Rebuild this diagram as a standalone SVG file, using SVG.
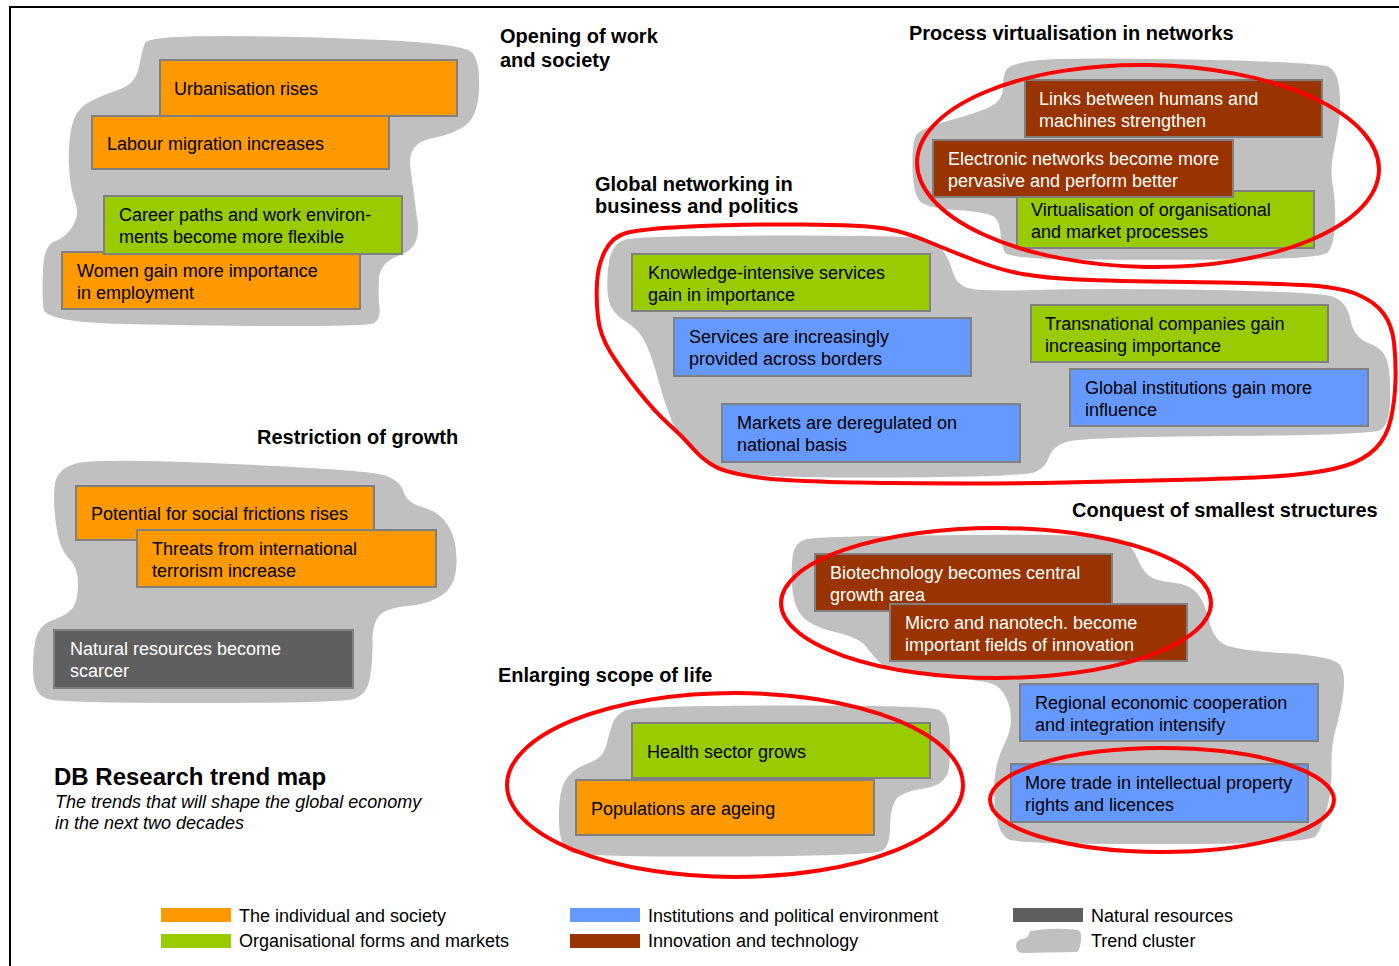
<svg xmlns="http://www.w3.org/2000/svg" width="1399" height="966" viewBox="0 0 1399 966">
<style>
text{font-family:"Liberation Sans",Arial,sans-serif;font-size:18px;fill:#000}
.h{font-weight:bold;font-size:20px}
.w{fill:#fff}
.blob{fill:#c0c0c0}
.box{stroke:#808080;stroke-width:2}
.or{fill:#ff9900}.gr{fill:#99cc00}.bl{fill:#6699ff}.br{fill:#993300}.dg{fill:#5f5f5f}
.ring{fill:none;stroke:#ff0000;stroke-width:4}
</style>
<rect x="0" y="0" width="1399" height="966" fill="#fff"/>
<path d="M9,7 H1399 M10,6 V966" stroke="#000" stroke-width="2" fill="none"/>

<g id="cluster-opening">
<path class="blob" d="M145,43 Q148,36 224,36 Q300,36 382.5,40 Q465,44 472.5,53 Q480,62 479,88.5 Q478,115 466.5,124.5 Q455,134 431,138.5 Q407,143 410.5,169 Q414,195 417.5,221.5 Q421,248 400.5,255 Q380,262 379,278.5 Q378,295 379.5,308.5 Q381,322 370.5,324 Q360,326 280,326 Q200,326 122.5,324 Q45,322 43.5,308.5 Q42,295 43,270 Q44,245 54.5,241.5 Q65,238 72.5,226.5 Q80,215 75,201.5 Q70,188 69,166.5 Q68,145 71.5,127.5 Q75,110 87.5,103 Q100,96 118,90 Q136,84 139,67 Q142,50 145,43 Z"/>
<text class="h" x="500" y="43">Opening of work</text>
<text class="h" x="500" y="67">and society</text>
</g>
<g id="n-urbanisation"><rect class="box or" x="160" y="60" width="297" height="56"/><text x="174" y="95">Urbanisation rises</text></g>
<g id="n-labour"><rect class="box or" x="92" y="116" width="297" height="53"/><text x="107" y="150">Labour migration increases</text></g>
<g id="n-women"><rect class="box or" x="62" y="252" width="298" height="57"/><text x="77" y="277">Women gain more importance</text><text x="77" y="298.5">in employment</text></g>
<g id="n-career"><rect class="box gr" x="104" y="196" width="298" height="58"/><text x="119" y="221">Career paths and work environ-</text><text x="119" y="242.5">ments become more flexible</text></g>

<g id="cluster-process">
<path class="blob" d="M1006.5,69.5 Q1010,64 1035,60.5 Q1060,57 1190,59.5 Q1320,62 1329,67 Q1338,72 1339.5,91 Q1341,110 1338.5,125 Q1336,140 1333,155 Q1330,170 1333,187.5 Q1336,205 1335,225 Q1334,245 1328,252 Q1322,259 1236,259.5 Q1150,260 1079,259.5 Q1008,259 1004.5,252 Q1001,245 1000.5,233.5 Q1000,222 994,217 Q988,212 956.5,210 Q925,208 919,200 Q913,192 912.5,166 Q912,140 917,134 Q922,128 951,120 Q980,112 991.5,106 Q1003,100 1003,87.5 Q1003,75 1006.5,69.5 Z"/>
<text class="h" x="909" y="40">Process virtualisation in networks</text>
</g>
<g id="n-links"><rect class="box br" x="1025" y="80" width="297" height="57"/><text class="w" x="1039" y="105">Links between humans and</text><text class="w" x="1039" y="126.5">machines strengthen</text></g>
<g id="n-virtualisation"><rect class="box gr" x="1017" y="191" width="297" height="57"/><text x="1031" y="216">Virtualisation of organisational</text><text x="1031" y="237.5">and market processes</text></g>
<g id="n-electronic"><rect class="box br" x="933" y="140" width="300" height="57"/><text class="w" x="948" y="165">Electronic networks become more</text><text class="w" x="948" y="186.5">pervasive and perform better</text></g>

<g id="cluster-global">
<path class="blob" d="M609,261.5 Q612,243 626,239.5 Q640,236 765,235.5 Q890,235 912.5,237.5 Q935,240 942.5,250 Q950,260 952.5,271 Q955,282 965,287 Q975,292 1037.5,290 Q1100,288 1210,290 Q1320,292 1333.5,297 Q1347,302 1350.5,320 Q1354,338 1369.5,343.5 Q1385,349 1388,364.5 Q1391,380 1390,402.5 Q1389,425 1380.5,430 Q1372,435 1226,436 Q1080,437 1066,442 Q1052,447 1049,457 Q1046,467 1035.5,472 Q1025,477 882.5,477.5 Q740,478 722.5,470 Q705,462 692.5,451 Q680,440 672.5,422.5 Q665,405 659,382.5 Q653,360 646.5,345 Q640,330 625,321 Q610,312 608,296 Q606,280 609,261.5 Z"/>
<text class="h" x="595" y="191">Global networking in</text>
<text class="h" x="595" y="213">business and politics</text>
</g>
<g id="n-knowledge"><rect class="box gr" x="632" y="254" width="298" height="57"/><text x="648" y="279">Knowledge-intensive services</text><text x="648" y="300.5">gain in importance</text></g>
<g id="n-services"><rect class="box bl" x="674" y="318" width="297" height="58"/><text x="689" y="343">Services are increasingly</text><text x="689" y="364.5">provided across borders</text></g>
<g id="n-markets"><rect class="box bl" x="722" y="404" width="298" height="58"/><text x="737" y="429">Markets are deregulated on</text><text x="737" y="450.5">national basis</text></g>
<g id="n-transnational"><rect class="box gr" x="1031" y="305" width="297" height="57"/><text x="1045" y="330">Transnational companies gain</text><text x="1045" y="351.5">increasing importance</text></g>
<g id="n-institutions"><rect class="box bl" x="1070" y="369" width="298" height="57"/><text x="1085" y="394">Global institutions gain more</text><text x="1085" y="415.5">influence</text></g>

<g id="cluster-restriction">
<path class="blob" d="M54.5,486.5 Q56,468 78,463 Q100,458 233.5,464 Q367,470 383.5,475 Q400,480 403.5,491.5 Q407,503 423.5,507.5 Q440,512 448.5,526 Q457,540 456.5,562.5 Q456,585 443,594.5 Q430,604 407.5,606 Q385,608 378.5,616.5 Q372,625 372.5,642.5 Q373,660 370,677.5 Q367,695 353.5,699 Q340,703 200,703 Q60,703 47.5,699 Q35,695 33.5,677.5 Q32,660 35,642.5 Q38,625 53,620 Q68,615 73,607.5 Q78,600 78,583.5 Q78,567 69,558.5 Q60,550 56.5,527.5 Q53,505 54.5,486.5 Z"/>
<text class="h" x="257" y="444">Restriction of growth</text>
</g>
<g id="n-potential"><rect class="box or" x="76" y="486" width="298" height="54"/><text x="91" y="520">Potential for social frictions rises</text></g>
<g id="n-threats"><rect class="box or" x="137" y="530" width="299" height="57"/><text x="152" y="555">Threats from international</text><text x="152" y="576.5">terrorism increase</text></g>
<g id="n-natural"><rect class="box dg" x="54" y="630" width="299" height="58"/><text class="w" x="70" y="655">Natural resources become</text><text class="w" x="70" y="676.5">scarcer</text></g>

<g id="cluster-conquest">
<path class="blob" d="M793,554 Q795,543 805,539.5 Q815,536 962.5,535 Q1110,534 1121,539.5 Q1132,545 1137,557.5 Q1142,570 1148.5,575.5 Q1155,581 1172.5,582.5 Q1190,584 1197.5,593.5 Q1205,603 1208.5,619 Q1212,635 1221,642.5 Q1230,650 1282.5,653 Q1335,656 1340.5,665.5 Q1346,675 1343,695 Q1340,715 1335.5,730 Q1331,745 1331.5,767.5 Q1332,790 1327,809 Q1322,828 1316,836 Q1310,844 1164,844 Q1018,844 1009,839.5 Q1000,835 996.5,817.5 Q993,800 994.5,780 Q996,760 1005,742.5 Q1014,725 1009.5,707.5 Q1005,690 995,685 Q985,680 937.5,676.5 Q890,673 881,664 Q872,655 866,646.5 Q860,638 835,632 Q810,626 801.5,615.5 Q793,605 792,585 Q791,565 793,554 Z"/>
<text class="h" x="1072" y="517">Conquest of smallest structures</text>
</g>
<g id="n-biotech"><rect class="box br" x="815" y="554" width="297" height="57"/><text class="w" x="830" y="579">Biotechnology becomes central</text><text class="w" x="830" y="600.5">growth area</text></g>
<g id="n-micro"><rect class="box br" x="890" y="604" width="297" height="57"/><text class="w" x="905" y="629">Micro and nanotech. become</text><text class="w" x="905" y="650.5">important fields of innovation</text></g>
<g id="n-regional"><rect class="box bl" x="1020" y="684" width="298" height="57"/><text x="1035" y="709">Regional economic cooperation</text><text x="1035" y="730.5">and integration intensify</text></g>
<g id="n-trade"><rect class="box bl" x="1011" y="764" width="297" height="58"/><text x="1025" y="789">More trade in intellectual property</text><text x="1025" y="810.5">rights and licences</text></g>

<g id="cluster-enlarging">
<path class="blob" d="M612,725 Q615,715 625,710.5 Q635,706 782.5,705.5 Q930,705 939,710 Q948,715 949.5,732.5 Q951,750 949,767.5 Q947,785 923.5,788.5 Q900,792 895,801 Q890,810 890,827.5 Q890,845 882.5,850.5 Q875,856 727.5,856.5 Q580,857 571,852.5 Q562,848 560,834 Q558,820 559.5,802.5 Q561,785 568,776.5 Q575,768 589,763 Q603,758 606,746.5 Q609,735 612,725 Z"/>
<text class="h" x="498" y="682">Enlarging scope of life</text>
</g>
<g id="n-health"><rect class="box gr" x="632" y="723" width="298" height="55"/><text x="647" y="758">Health sector grows</text></g>
<g id="n-populations"><rect class="box or" x="576" y="780" width="298" height="55"/><text x="591" y="815">Populations are ageing</text></g>

<g id="highlights">
<ellipse class="ring" cx="1148" cy="166" rx="231" ry="101" transform="rotate(1 1148 166)"/>
<path class="ring" d="M605,251 Q612,237 626,233 Q640,229 690,226.5 Q740,224 802.5,224.5 Q865,225 885,228.5 Q905,232 926.5,241 Q948,250 974,260 Q1000,270 1022.5,274 Q1045,278 1077.5,279.5 Q1110,281 1187.5,282 Q1265,283 1302.5,285 Q1340,287 1357.5,294.5 Q1375,302 1383.5,313.5 Q1392,325 1394,342.5 Q1396,360 1395.5,380 Q1395,400 1391,418.5 Q1387,437 1375.5,448.5 Q1364,460 1344.5,466 Q1325,472 1292.5,475 Q1260,478 1195,479.5 Q1130,481 1065,482.5 Q1000,484 895,483 Q790,482 758.5,477.5 Q727,473 715,466.5 Q703,460 693,448.5 Q683,437 669,424.5 Q655,412 637.5,390 Q620,368 610,351.5 Q600,335 598,317.5 Q596,300 597,282.5 Q598,265 605,251 Z"/>
<ellipse class="ring" cx="996" cy="603" rx="215" ry="75"/>
<ellipse class="ring" cx="1162" cy="800" rx="172" ry="52"/>
<ellipse class="ring" cx="735" cy="785" rx="228" ry="92"/>
</g>

<g id="title">
<text x="54" y="785" style="font-weight:bold;font-size:24px">DB Research trend map</text>
<text x="55" y="808" style="font-style:italic">The trends that will shape the global economy</text>
<text x="55" y="829" style="font-style:italic">in the next two decades</text>
</g>

<g id="legend">
<rect class="or" x="161" y="908" width="70" height="14"/><text x="239" y="922">The individual and society</text>
<rect class="gr" x="161" y="934" width="70" height="14"/><text x="239" y="947">Organisational forms and markets</text>
<rect class="bl" x="570" y="908" width="70" height="14"/><text x="648" y="922">Institutions and political environment</text>
<rect class="br" x="570" y="934" width="70" height="14"/><text x="648" y="947">Innovation and technology</text>
<rect class="dg" x="1013" y="908" width="70" height="14"/><text x="1091" y="922">Natural resources</text>
<path class="blob" d="M1030,931 Q1055,927 1078,930 Q1082,932 1081,940 Q1080,950 1077,952 L1022,953 Q1016,952 1016,946 Q1016,940 1022,939 Q1029,938 1030,931 Z"/><text x="1091" y="947">Trend cluster</text>
</g>
</svg>
